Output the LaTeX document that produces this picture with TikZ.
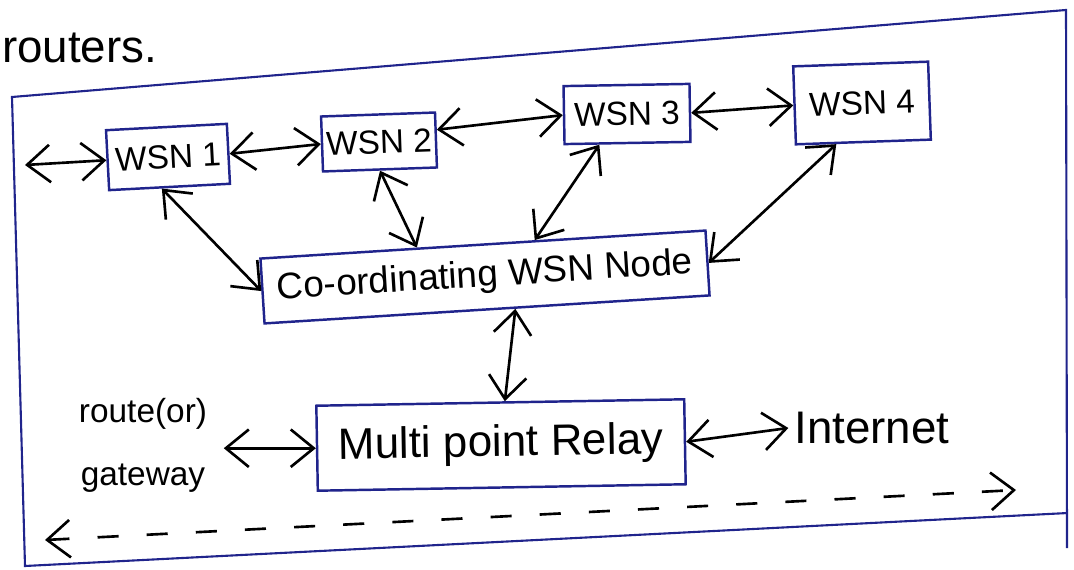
\documentclass[tikz,border=0pt]{standalone}
\usepackage{tikz}
\usepackage{xcolor}
\usepackage{fontspec}
\setmainfont{Liberation Sans}
\usetikzlibrary{shapes, positioning, arrows.meta}

\definecolor{ink}{RGB}{32,36,140}

\tikzset{
  wsnbox/.style={draw=ink, line width=1.4pt, inner sep=0pt, font=\fontsize{19}{22}\selectfont},
  link/.style={arrows={Straight Barb[length=4.6mm,width=7.5mm]-Straight Barb[length=4.6mm,width=7.5mm]}, line width=1.5pt},
}

\begin{document}
\begin{tikzpicture}[x=0.02cm, y=-0.02cm]
      \useasboundingbox (0,0) rectangle (1074,570);

      \node[anchor=west, font=\fontsize{26}{30}\selectfont] (top) at (-4,48) {routers.};

      \draw[ink, line width=1.2pt] (1068,513) -- (25,566) -- (12,97) -- (1066,10) -- (1067,548);

      \node[wsnbox, minimum width=2.42cm, minimum height=1.2cm, rotate=3] (W1) at (168,157) {WSN 1};
      \node[wsnbox, minimum width=2.28cm, minimum height=1.1cm, rotate=2] (W2) at (379,142) {WSN 2};
      \node[wsnbox, minimum width=2.52cm, minimum height=1.16cm, rotate=1] (W3) at (627,114) {WSN 3};
      \node[wsnbox, minimum width=2.7cm, minimum height=1.56cm, rotate=2] (W4) at (862,103) {WSN 4};
      \node[wsnbox, minimum width=8.92cm, minimum height=1.3cm, rotate=3.6,
            font=\fontsize{21}{24}\selectfont] (C) at (485,277) {Co-ordinating WSN Node};
      \node[wsnbox, minimum width=7.36cm, minimum height=1.7cm, rotate=1,
            font=\fontsize{25}{28}\selectfont] (R) at (501,445) {Multi point Relay};
      \node[align=center, font=\fontsize{19}{36}\selectfont] (G) at (143,445) {route(or)\\gateway};
      \node[font=\fontsize{26}{30}\selectfont] (I) at (872,428) {Internet};

      \coordinate (L) at (25,165);
      \coordinate (DL) at (45,540);
      \coordinate (DR) at (1016,490);

      \draw[link] (L) -- (W1.west);
      \draw[link] (W1.east) -- (W2.west);
      \draw[link] (W2.10) -- (W3.west);
      \draw[link] (W3.east) -- (W4.west);
      \draw[link] (W1.256) -- (C.west);
      \draw[link] (W2.south) -- (C.153);
      \draw[link] (W3.227) -- (C.33);
      \draw[link] (W4.236) -- (C.east);
      \draw[link] (C.-50) -- (R.84);
      \draw[link] ([xshift=6pt]G.east |- R.west) -- (R.west);
      \draw[link] (R.east) -- (I.west);
      \draw[link, dash pattern=on 12pt off 16pt] (DL) -- (DR);

    \end{tikzpicture}
\end{document}
